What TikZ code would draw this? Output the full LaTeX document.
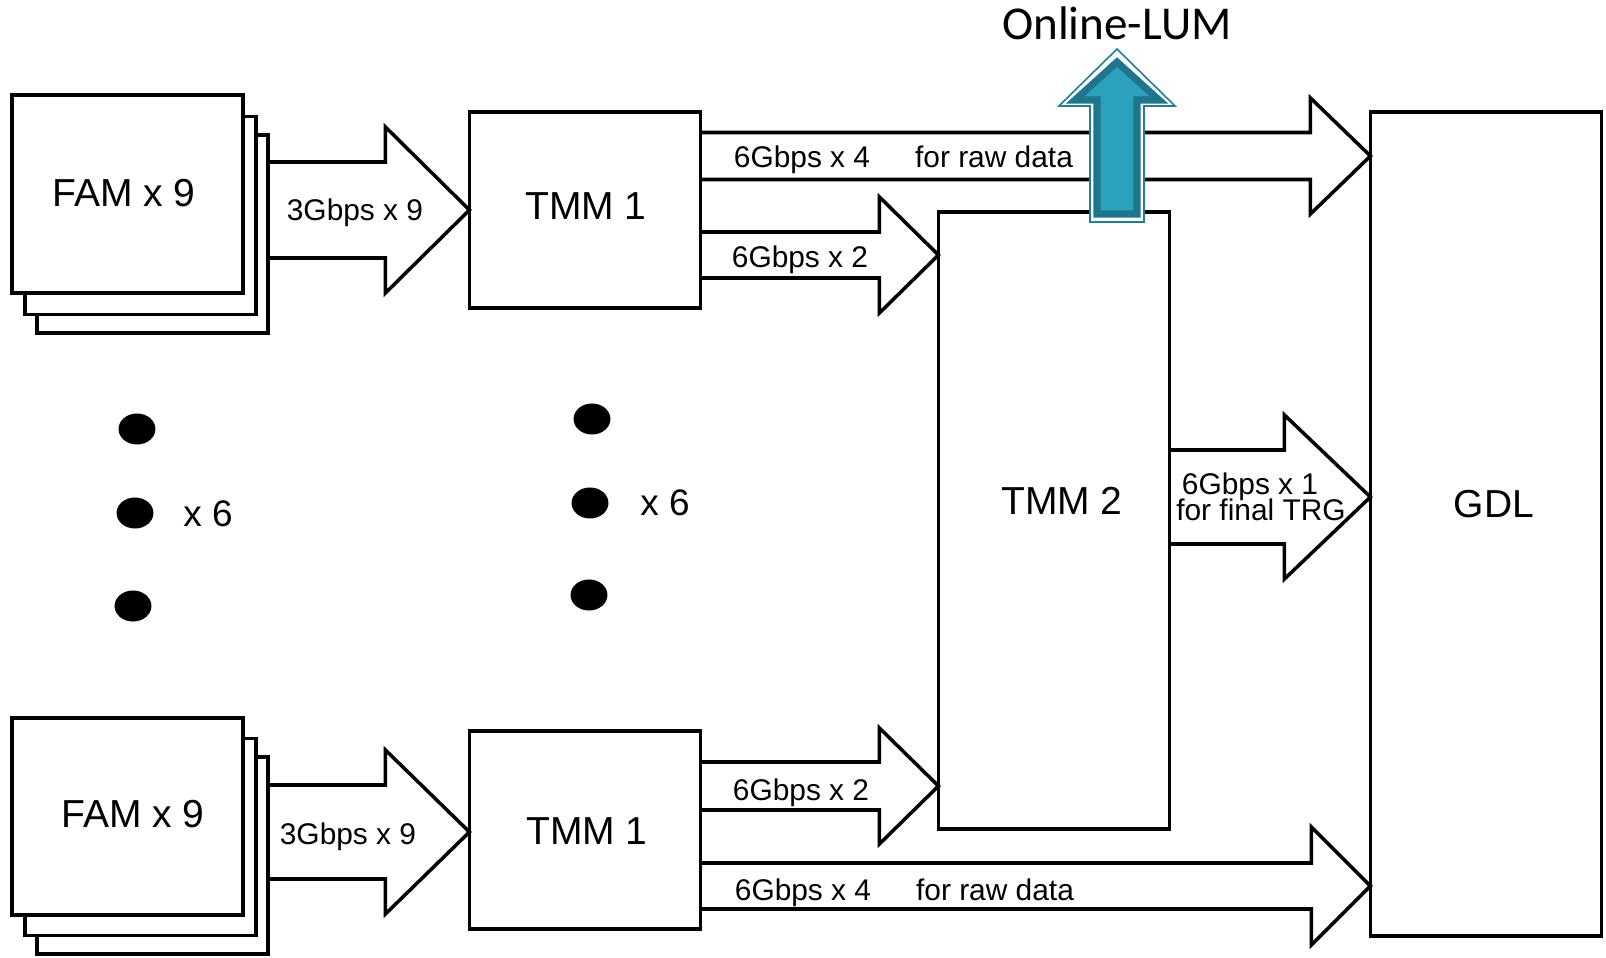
\documentclass[tikz,border=0pt]{standalone}
\usepackage{fontspec}
\setmainfont{Liberation Sans}
\newfontfamily\lumfont{Carlito}
\usetikzlibrary{calc}

\definecolor{lumfill}{RGB}{43,161,188}
\definecolor{lumedge}{RGB}{31,118,140}
\definecolor{lumrim}{RGB}{35,125,150}

% block arrow: from anchor, to anchor, centre y, shaft half height, head half height, head length
\newcommand\blockarrow[6]{%
  \pgfmathsetmacro\bkShaftTop{#3-#4}\pgfmathsetmacro\bkShaftBot{#3+#4}%
  \pgfmathsetmacro\bkHeadTop{#3-#5}\pgfmathsetmacro\bkHeadBot{#3+#5}%
  \draw[blockarr] (#1 |- 0,\bkShaftTop)
    -- ($(#2 |- 0,\bkShaftTop)+(-#6,0)$)
    -- ($(#2 |- 0,\bkHeadTop)+(-#6,0)$)
    -- (#2 |- 0,#3)
    -- ($(#2 |- 0,\bkHeadBot)+(-#6,0)$)
    -- ($(#2 |- 0,\bkShaftBot)+(-#6,0)$)
    -- (#1 |- 0,\bkShaftBot);
}

\begin{document}
\begin{tikzpicture}[x=0.01cm,y=-0.01cm,
  box/.style={draw=black,fill=white,line width=1pt,outer sep=0pt,inner sep=0pt,
    minimum width=2.31cm},
  edge/.style={draw=black,line width=1pt,line cap=rect},
  blockarr/.style={draw=black,fill=white,line width=1pt,line join=miter},
  biglbl/.style={inner sep=0pt,text height=0.716em,text depth=0pt,font=\fontsize{11.1}{13}\selectfont},
  smalllbl/.style={inner sep=0pt,text height=0.716em,text depth=0pt,font=\fontsize{8.5}{10}\selectfont},
  multlbl/.style={inner sep=0pt,text height=0.716em,text depth=0pt,font=\fontsize{10.5}{12}\selectfont},
  dot/.style={fill=black,draw=none,shape=circle,inner sep=0pt,minimum size=0.31cm,xscale=1.19}]

\useasboundingbox (0,0) rectangle (1606,958);
\fill[white] (0,0) rectangle (1606,958);

% upper FAM stack
\node[box,minimum height=1.98cm] (famA3) at (152.5,234) {};
\node[box,minimum height=1.98cm] (famA2) at (140.5,215.5) {};
\node[box,minimum height=1.98cm] (famA1) at (127.5,194) {};
\node[biglbl] (famAtext) at (124,194) {FAM x 9};

% lower FAM stack
\node[box,minimum height=1.97cm] (famB3) at (152.5,855.5) {};
\node[box,minimum height=1.97cm] (famB2) at (140.5,837) {};
\node[box,minimum height=1.97cm] (famB1) at (127.5,816.5) {};
\node[biglbl] (famBtext) at (133,815) {FAM x 9};

% TMM boards
\node[box,minimum height=1.96cm] (tmmA) at (585,210) {};
\node[biglbl] (tmmAtext) at (586,207) {TMM 1};
\node[box,minimum height=1.98cm] (tmmB) at (585,830) {};
\node[biglbl] (tmmBtext) at (587,832) {TMM 1};
\node[box,minimum height=6.17cm] (tmm2) at (1054,520.5) {};
\node[biglbl] (tmm2text) at (1062,502) {TMM 2};

% global decision logic
\node[box,minimum height=8.24cm] (gdl) at (1486,524) {};
\node[biglbl] (gdltext) at (1494,505) {GDL};

% repetition marks
\node[dot] (dA1) at (137,429) {};
\node[dot] (dA2) at (135,513) {};
\node[dot] (dA3) at (133,606) {};
\node[multlbl] (multA) at (208,514) {x 6};
\node[dot] (dB1) at (592,419) {};
\node[dot] (dB2) at (590,503) {};
\node[dot] (dB3) at (589,595) {};
\node[multlbl] (multB) at (665,503) {x 6};

% links
\blockarrow{famA3.east}{tmmA.west}{210}{48}{83}{84}
\blockarrow{famB3.east}{tmmB.west}{832}{47}{82}{84}
\blockarrow{tmmA.east}{gdl.west}{156}{23.5}{58}{60}
\blockarrow{tmmA.east}{tmm2.west}{255}{23}{58}{59}
\blockarrow{tmm2.east}{gdl.west}{497}{47}{82}{86}
\blockarrow{tmmB.east}{tmm2.west}{786}{24}{58}{59}
\blockarrow{tmmB.east}{gdl.west}{886}{23}{59}{59}

% box edges restored where the arrow fills meet them
\draw[edge] (famA3.north east) -- (famA3.south east);
\draw[edge] (famB3.north east) -- (famB3.south east);
\draw[edge] (tmmA.north west) -- (tmmA.south west);
\draw[edge] (tmmA.north east) -- (tmmA.south east);
\draw[edge] (tmmB.north west) -- (tmmB.south west);
\draw[edge] (tmmB.north east) -- (tmmB.south east);
\draw[edge] (tmm2.north west) -- (tmm2.south west);
\draw[edge] (tmm2.north east) -- (tmm2.south east);
\draw[edge] (gdl.north west) -- (gdl.south west);

% link labels
\node[smalllbl] (l3a) at (355,208) {3Gbps x 9};
\node[smalllbl] (l3b) at (348,832) {3Gbps x 9};
\node[smalllbl] (lraw1) at (802,155) {6Gbps x 4};
\node[smalllbl] (lraw2) at (994,155) {for raw data};
\node[smalllbl] (l62a) at (800,255) {6Gbps x 2};
\node[smalllbl] (l61) at (1250,482) {6Gbps x 1};
\node[smalllbl] (ltrg) at (1261,508) {for final TRG};
\node[smalllbl] (l62b) at (801,788) {6Gbps x 2};
\node[smalllbl] (lraw3) at (803,888) {6Gbps x 4};
\node[smalllbl] (lraw4) at (995,888) {for raw data};

% luminosity output
\draw[lumrim,line width=0.45pt,fill=white,line join=miter]
  (1090,222) -- (1090,106) -- (1059,106) -- (1117,49) -- (1175,106)
  -- (1144,106) -- (1144,222) -- cycle;
\draw[lumedge,fill=lumfill,line width=2pt,line join=miter]
  (1097,214) -- (1097,100) -- (1075,100) -- (1117,62) -- (1159,100)
  -- (1137,100) -- (1137,214) -- cycle;
\node[inner sep=0pt,anchor=base,font=\lumfont\fontsize{13.4}{16}\selectfont] (lum) at (1117,40) {Online-LUM};
\end{tikzpicture}
\end{document}
